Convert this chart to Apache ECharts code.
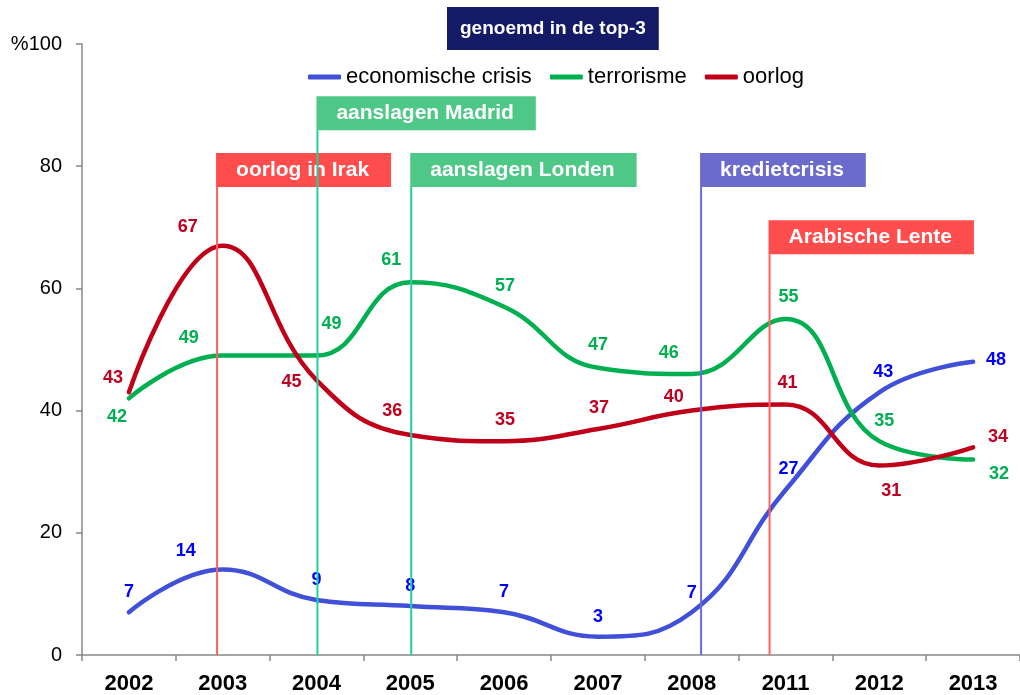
<!DOCTYPE html>
<html><head><meta charset="utf-8">
<script src="https://cdn.jsdelivr.net/npm/echarts@6/dist/echarts.min.js"></script>
<style>html,body{margin:0;padding:0;background:#fff}#c{width:1020px;height:695px}</style>
</head><body><div id="c"></div>
<script>
// ---- data ----
const categories = ['2002','2003','2004','2005','2006','2007','2008','2011','2012','2013'];
const economischeCrisis = [7,14,9,8,7,3,7,27,43,48];
const terrorisme = [42,49,49,61,57,47,46,55,35,32];
const oorlog = [43,67,45,36,35,37,40,41,31,34];
const yTickLabels = ['0','20','40','60','80','%100'];
const eventLabels = ['oorlog in Irak','aanslagen Madrid','aanslagen Londen','kredietcrisis','Arabische Lente'];
const eventX = [1.44,2.51,3.51,6.6,7.33];      // position along the category scale (0..10)
const eventTop = [76.6,85.9,76.6,76.6,65.6];   // value where the marker box sits

// ---- styles (label placement, colours) ----
const ecoOff = [[0,-20],[-37,-18],[0,-20],[0,-20],[0,-20],[0,-20],[0,-19],[3,-21],[4,-20],[23,-2]];
const terOff = [[-12,19],[-34,-18],[15,-32],[-19,-22],[1,-21],[0,-23],[-23,-21],[3,-22],[5,-20],[26,15]];
const oorOff = [[-16,-14],[-35,-19],[-25,2],[-18,-24],[1,-21],[1,-21],[-18,-14],[2,-21],[12,25],[25,-10]];
const eventBox = ['#ff4d4d','#4dc887','#4dc887','#6b6bcc','#ff4d4d'];
const eventLine = ['#ff6060','#20d0a0','#20d0a0','#6a6ad8','#ff6060'];
const FONT = 'Arial, "Liberation Sans", sans-serif';

function mkData(vals, offs, color) {
  return vals.map((v, i) => ({
    value: v,
    label: { show: true, position: 'inside', offset: offs[i], color: color,
      fontFamily: FONT, fontWeight: 'bold', fontSize: 18 }
  }));
}

function lineSeries(name, vals, offs, lineColor, labelColor) {
  return {
    name: name, type: 'line', smooth: 0.45,
    data: mkData(vals, offs, labelColor),
    symbol: 'circle', symbolSize: 2, showSymbol: true,
    color: lineColor,
    itemStyle: { color: lineColor },
    lineStyle: { width: 4.5, color: lineColor, cap: 'round' },
    emphasis: { disabled: true },
    z: 3
  };
}

const chart = echarts.init(document.getElementById('c'), null, { renderer: 'canvas' });
chart.setOption({
  animation: false,
  backgroundColor: '#fff',
  title: {
    text: 'genoemd in de top-3', left: 447, top: 7,
    backgroundColor: '#141a66', padding: [12, 13, 12, 13],
    textStyle: { color: '#fff', fontFamily: FONT, fontWeight: 'bold', fontSize: 19, lineHeight: 19 }
  },
  legend: {
    left: 303, top: 61, icon: 'roundRect', itemWidth: 33, itemHeight: 5, itemGap: 18,
    textStyle: { fontFamily: FONT, fontSize: 22, color: '#000' },
    data: ['economische crisis', 'terrorisme', 'oorlog']
  },
  grid: { left: 82, top: 44, width: 940, height: 611 },
  xAxis: [{
    type: 'category', data: categories, boundaryGap: true,
    axisLine: { lineStyle: { color: '#888', width: 1.5 } },
    axisTick: { show: true, length: 6, lineStyle: { color: '#888', width: 1.5 } },
    axisLabel: { margin: 18, color: '#000', fontFamily: FONT, fontWeight: 'bold', fontSize: 22, interval: 0 },
    splitLine: { show: false }
  }, {
    type: 'value', min: 0, max: 10, show: false
  }],
  yAxis: {
    type: 'value', min: 0, max: 100, interval: 20,
    axisLine: { show: true, lineStyle: { color: '#888', width: 1.5 } },
    axisTick: { show: true, length: 6, lineStyle: { color: '#888', width: 1.5 } },
    axisLabel: { margin: 20, color: '#000', fontFamily: FONT, fontSize: 20,
      formatter: v => yTickLabels[Math.round(v / 20)] },
    splitLine: { show: false }
  },
  series: [
    lineSeries('economische crisis', economischeCrisis, ecoOff, '#4050d8', '#0000ff'),
    lineSeries('terrorisme', terrorisme, terOff, '#00b050', '#00b050'),
    lineSeries('oorlog', oorlog, oorOff, '#c00018', '#c00020'),
    {
      type: 'custom', xAxisIndex: 1, yAxisIndex: 0, z: 5, silent: true,
      data: eventX.map((x, i) => [x, eventTop[i]]),
      renderItem: function (params, api) {
        const i = params.dataIndex;
        const bottom = api.coord([api.value(0), 0]);
        const top = api.coord([api.value(0), api.value(1)]);
        return {
          type: 'group',
          children: [
            { type: 'line', shape: { x1: top[0], y1: top[1], x2: bottom[0], y2: bottom[1] },
              style: { stroke: eventLine[i], lineWidth: 2 } },
            { type: 'text', x: top[0] - 1, y: top[1],
              style: { text: eventLabels[i], fill: '#fff', font: 'bold 21px ' + FONT,
                align: 'left', verticalAlign: 'bottom', lineHeight: 22,
                backgroundColor: eventBox[i], padding: [6, 22, 6, 20] } }
          ]
        };
      }
    }
  ]
});
</script>
</body></html>
